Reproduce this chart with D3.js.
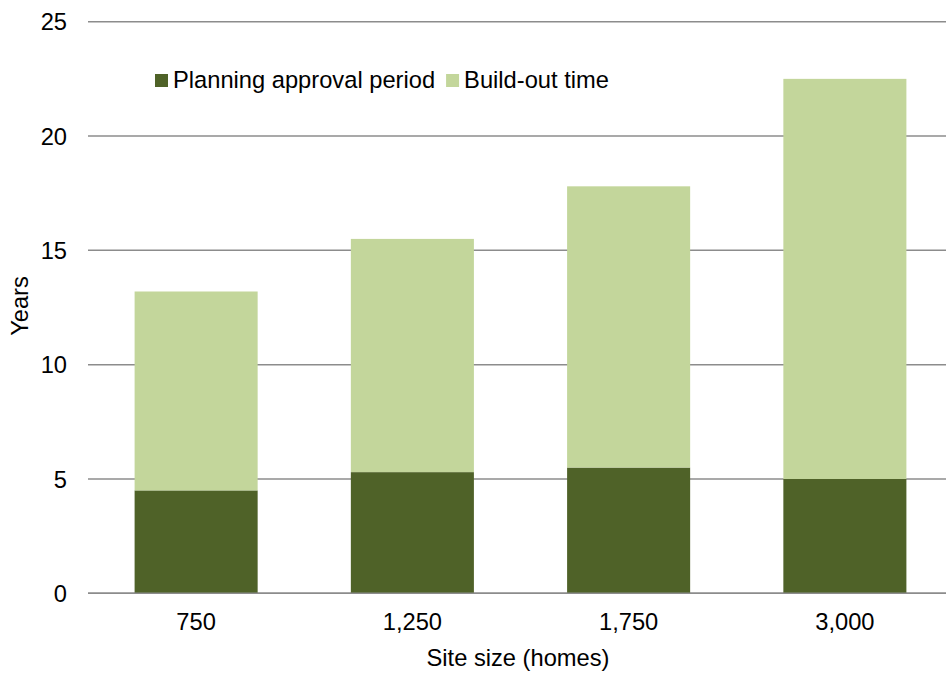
<!DOCTYPE html>
<html>
<head>
<meta charset="utf-8">
<script src="https://cdn.jsdelivr.net/npm/d3@7"></script>
<style>
  html, body { margin: 0; padding: 0; background: #fff; }
  svg { display: block; }
  text { font-family: "Liberation Sans", Arial, sans-serif; fill: #000; }
</style>
</head>
<body>
<svg id="chart" width="946" height="673"></svg>
<script>
const categories = ["750", "1,250", "1,750", "3,000"];
const planningValues = [4.5, 5.3, 5.5, 5.0];
const buildOutValues = [8.7, 10.2, 12.3, 17.5];
const seriesNames = ["Planning approval period", "Build-out time"];
const yTicks = [0, 5, 10, 15, 20, 25];

const colors = ["#4F6228", "#C3D69B"];
const fontSize = 23.7;

const svg = d3.select("#chart");
const W = 946, H = 673;

const x = d3.scaleBand().domain(categories).range([88, 953]).paddingInner(0.431).paddingOuter(0.2155);
const y = d3.scaleLinear().domain([0, 25]).range([593.3, 21.7]);

// gridlines
svg.append("g").selectAll("line").data(yTicks).join("line")
  .attr("x1", 88).attr("x2", W)
  .attr("y1", d => y(d)).attr("y2", d => y(d))
  .attr("stroke", "#8c8c8c").attr("stroke-width", 1.5);

// y tick labels
const yAxis = d3.axisLeft(y).tickValues(yTicks).tickSize(0).tickPadding(0);
const gy = svg.append("g").attr("transform", "translate(67,0)").call(yAxis);
gy.select(".domain").remove();
gy.selectAll("text").attr("font-size", fontSize).attr("font-family", "Liberation Sans, Arial, sans-serif").attr("fill", "#000").attr("dy", "0.35em");

// stacked data
const rows = categories.map((c, i) => ({ cat: c, planning: planningValues[i], build: buildOutValues[i] }));
const stack = d3.stack().keys(["planning", "build"]);
const series = stack(rows);

svg.append("g").selectAll("g").data(series).join("g")
  .attr("fill", (d, i) => colors[i])
  .selectAll("rect").data(d => d).join("rect")
  .attr("x", d => x(d.data.cat))
  .attr("width", x.bandwidth())
  .attr("y", d => y(d[1]))
  .attr("height", d => y(d[0]) - y(d[1]));

// baseline line on top
svg.append("line").attr("x1", 88).attr("x2", W).attr("y1", y(0)).attr("y2", y(0))
  .attr("stroke", "#8c8c8c").attr("stroke-width", 1.5);

// x tick labels
const xAxis = d3.axisBottom(x).tickSize(0).tickPadding(0);
const gx = svg.append("g").attr("transform", "translate(0,630)").call(xAxis);
gx.select(".domain").remove();
gx.selectAll("text").attr("font-size", fontSize).attr("font-family", "Liberation Sans, Arial, sans-serif").attr("fill", "#000").attr("dy", 0);

// axis titles
svg.append("text").attr("x", 518).attr("y", 666).attr("text-anchor", "middle")
  .attr("font-size", fontSize).text("Site size (homes)");
svg.append("text").attr("transform", "translate(28,306) rotate(-90)").attr("text-anchor", "middle")
  .attr("font-size", fontSize).text("Years");

// legend
const legend = svg.append("g");
let lx = 155;
seriesNames.forEach((name, i) => {
  legend.append("rect").attr("x", lx).attr("y", 74).attr("width", 13).attr("height", 13).attr("fill", colors[i]);
  const t = legend.append("text").attr("x", lx + 18).attr("y", 88).attr("font-size", fontSize).text(name);
  lx = lx + 18 + t.node().getComputedTextLength() + 11;
});
</script>
</body>
</html>
